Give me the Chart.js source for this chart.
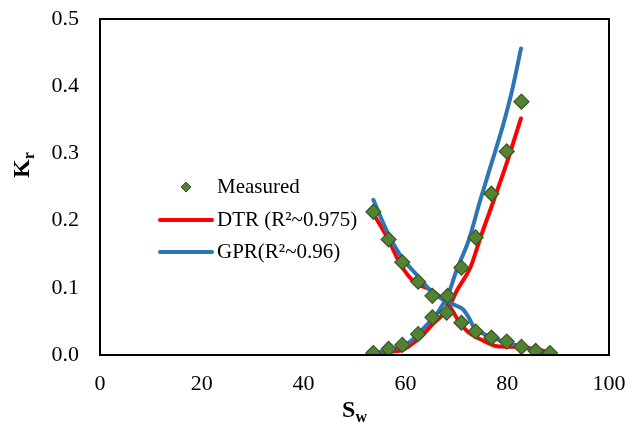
<!DOCTYPE html>
<html>
<head>
<meta charset="utf-8">
<script src="https://cdn.jsdelivr.net/npm/chart.js@4.4.0/dist/chart.umd.min.js"></script>
<style>
  html, body { margin: 0; padding: 0; background: #fff; }
  #wrap { width: 628px; height: 426px; }
</style>
</head>
<body>
<div id="wrap"><canvas id="kr-chart" width="628" height="426"></canvas></div>
<script>
// Measured points (Sw in %, Kr)
const swOilMeasured = [53.7, 56.7, 59.4, 62.5, 65.3, 68.1, 71.0, 73.8, 76.9, 79.9, 82.8, 85.6, 88.4];
const kroMeasured = [0.213, 0.172, 0.138, 0.109, 0.088, 0.063, 0.048, 0.035, 0.026, 0.020, 0.012, 0.006, 0.003];
const swWaterMeasured = [53.7, 56.7, 59.4, 62.5, 65.3, 68.3, 71.0, 73.8, 76.9, 79.9, 82.8];
const krwMeasured = [0.003, 0.009, 0.015, 0.031, 0.056, 0.088, 0.130, 0.175, 0.240, 0.303, 0.377];

// DTR model curves
const swDtrOil = [53.5, 56.7, 59.1, 62.0, 64.5, 66.9, 68.9, 70.5, 72.2, 75.4, 78.1, 82.7, 86.6, 88.6];
const kroDtr = [0.213, 0.171, 0.134, 0.107, 0.099, 0.086, 0.070, 0.050, 0.035, 0.021, 0.013, 0.012, 0.007, 0.003];
const swDtrWater = [53.5, 57.1, 59.6, 63.0, 65.6, 68.2, 70.2, 72.8, 74.8, 77.4, 80.1, 82.7];
const krwDtr = [0.002, 0.005, 0.008, 0.027, 0.048, 0.067, 0.097, 0.131, 0.176, 0.231, 0.290, 0.352];

// GPR model curves
const swGprOil = [53.7, 56.7, 59.4, 62.4, 65.2, 67.5, 69.5, 71.3, 72.5, 73.4, 76.8, 80.1, 84.0, 87.2];
const kroGpr = [0.231, 0.179, 0.144, 0.118, 0.094, 0.082, 0.075, 0.068, 0.055, 0.042, 0.027, 0.018, 0.010, 0.003];
const swGprWater = [53.5, 56.0, 60.4, 63.6, 66.5, 68.5, 70.0, 72.5, 74.5, 76.5, 79.3, 81.0, 82.7];
const krwGpr = [0.002, 0.006, 0.017, 0.040, 0.065, 0.092, 0.125, 0.172, 0.225, 0.275, 0.345, 0.395, 0.456];

const xTicks = [0, 20, 40, 60, 80, 100];
const yTicks = [0, 0.1, 0.2, 0.3, 0.4, 0.5];

const SERIF = '"Times New Roman", "Liberation Serif", serif';
const GREEN = '#548235';
const GREEN_DARK = '#385723';
const RED = '#ff0000';
const BLUE = '#2e75b6';

const pts = (xs, ys) => xs.map((x, i) => ({ x, y: ys[i] }));

const lineDs = (label, data, color) => ({
  label,
  data,
  showLine: true,
  borderColor: color,
  backgroundColor: color,
  borderWidth: 4,
  pointRadius: 0,
  cubicInterpolationMode: 'monotone',
  borderCapStyle: 'round',
});

// frame, axis titles with subscripts and the in-plot legend
const decorations = {
  id: 'decorations',
  afterDraw(c) {
    const { ctx, chartArea: a } = c;
    ctx.save();
    ctx.strokeStyle = '#000';
    ctx.lineWidth = 2;
    ctx.strokeRect(a.left, a.top, a.right - a.left, a.bottom - a.top);

    ctx.fillStyle = '#000';
    ctx.textBaseline = 'alphabetic';
    // x title: S_w
    ctx.font = `bold 24px ${SERIF}`;
    const sW = ctx.measureText('S').width;
    ctx.font = `bold 16px ${SERIF}`;
    const wW = ctx.measureText('w').width;
    let x0 = (a.left + a.right) / 2 - (sW + wW) / 2;
    ctx.font = `bold 24px ${SERIF}`;
    ctx.fillText('S', x0, 417);
    ctx.font = `bold 16px ${SERIF}`;
    ctx.fillText('w', x0 + sW, 422);

    // y title: K_r (rotated)
    ctx.save();
    ctx.translate(29, 165);
    ctx.rotate(-Math.PI / 2);
    ctx.font = `bold 24px ${SERIF}`;
    const kW = ctx.measureText('K').width;
    ctx.font = `bold 16px ${SERIF}`;
    const rW = ctx.measureText('r').width;
    x0 = -(kW + rW) / 2;
    ctx.font = `bold 24px ${SERIF}`;
    ctx.fillText('K', x0, 0);
    ctx.font = `bold 16px ${SERIF}`;
    ctx.fillText('r', x0 + kW, 5);
    ctx.restore();

    // legend
    ctx.font = `21px ${SERIF}`;
    ctx.textBaseline = 'middle';
    const mx = 186; const my = 187; const r = 5;
    ctx.beginPath();
    ctx.moveTo(mx, my - r);
    ctx.lineTo(mx + r, my);
    ctx.lineTo(mx, my + r);
    ctx.lineTo(mx - r, my);
    ctx.closePath();
    ctx.fillStyle = GREEN;
    ctx.fill();
    ctx.strokeStyle = GREEN_DARK;
    ctx.lineWidth = 1;
    ctx.stroke();
    ctx.fillStyle = '#000';
    ctx.fillText('Measured', 217, my);

    [[RED, 'DTR (R²~0.975)', 220], [BLUE, 'GPR(R²~0.96)', 252]].forEach(([col, txt, y]) => {
      ctx.beginPath();
      ctx.moveTo(160, y);
      ctx.lineTo(212, y);
      ctx.strokeStyle = col;
      ctx.lineWidth = 4;
      ctx.lineCap = 'round';
      ctx.stroke();
      ctx.fillStyle = '#000';
      ctx.fillText(txt, 217, y);
    });
    ctx.restore();
  },
};

const ctx = document.getElementById('kr-chart');
// eslint-disable-next-line no-unused-vars
const chart = new Chart(ctx, {
  type: 'scatter',
  data: {
    datasets: [
      {
        label: 'Measured',
        data: pts(swOilMeasured, kroMeasured).concat(pts(swWaterMeasured, krwMeasured)),
        pointStyle: 'rectRot',
        pointRadius: 7.5,
        backgroundColor: GREEN,
        borderColor: GREEN_DARK,
        borderWidth: 1.2,
        order: 0,
      },
      { ...lineDs('GPR(R²~0.96)', pts(swGprOil, kroGpr), BLUE), order: 1 },
      { ...lineDs('GPR(R²~0.96)', pts(swGprWater, krwGpr), BLUE), order: 1 },
      { ...lineDs('DTR (R²~0.975)', pts(swDtrOil, kroDtr), RED), order: 2 },
      { ...lineDs('DTR (R²~0.975)', pts(swDtrWater, krwDtr), RED), order: 2 },
    ],
  },
  options: {
    responsive: false,
    animation: false,
    devicePixelRatio: 1,
    layout: {
      padding: { left: 0, right: 19, top: 19, bottom: 0 },
    },
    plugins: {
      legend: { display: false },
      tooltip: { enabled: false },
    },
    scales: {
      x: {
        type: 'linear',
        min: 0,
        max: 100,
        afterBuildTicks: (s) => { s.ticks = xTicks.map((v) => ({ value: v })); },
        afterFit: (s) => {
          s.height = 71;
          s.paddingLeft = 0;
          s.paddingRight = 0;
        },
        grid: { display: false, drawTicks: false },
        border: { display: false },
        ticks: {
          color: '#000',
          padding: 16,
          font: { family: SERIF, size: 22 },
          maxRotation: 0,
        },
      },
      y: {
        type: 'linear',
        min: 0,
        max: 0.5,
        afterBuildTicks: (s) => { s.ticks = yTicks.map((v) => ({ value: v })); },
        afterFit: (s) => {
          s.width = 100;
          s.paddingTop = 0;
          s.paddingBottom = 0;
        },
        grid: { display: false, drawTicks: false },
        border: { display: false },
        ticks: {
          color: '#000',
          padding: 21,
          font: { family: SERIF, size: 22 },
          callback: (v) => v.toFixed(1),
        },
      },
    },
  },
  plugins: [decorations],
});
</script>
</body>
</html>
